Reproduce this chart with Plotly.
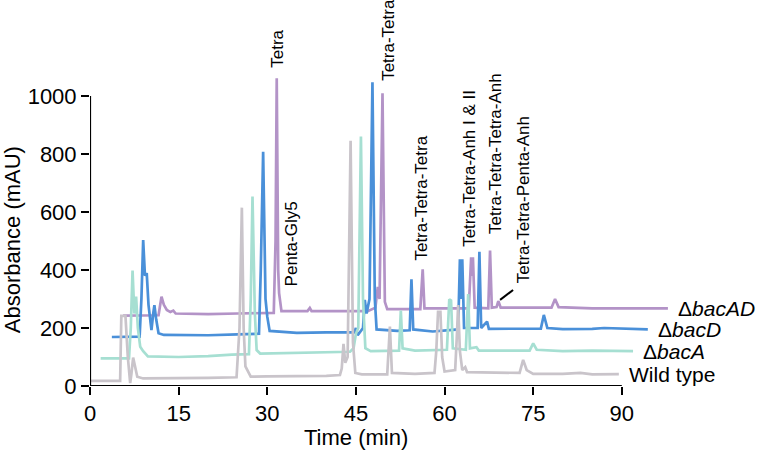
import plotly.graph_objects as go

# ---- data (time in min, absorbance in mAU) ----
wt_t = [0, 5.1, 5.3, 6.0, 6.4, 6.8, 7.0, 7.3, 7.6, 8.0, 9, 15, 20, 24.8, 25.3, 25.7, 26.0, 26.3, 26.7, 27.2,
        30, 35, 40, 42.3, 42.6, 42.9, 43.2, 43.6, 44.1, 44.5, 44.9, 46, 50.3, 50.75, 51.1, 55, 58.3, 58.6,
        58.9, 59.3, 59.6, 60.0, 61.8, 62.1, 62.3, 62.6, 63.0, 63.5, 63.8, 72.7, 73.3, 73.9, 75, 80, 83, 85, 89.5]
wt_v = [18, 18, 242, 242, 100, 10, 40, 98, 70, 32, 26, 26, 28, 30, 200, 615, 200, 68, 50, 32,
        33, 33, 35, 38, 60, 145, 80, 100, 846, 150, 45, 40, 40, 205, 45, 42, 45, 120,
        256, 256, 100, 50, 55, 180, 279, 120, 55, 65, 48, 45, 90, 55, 42, 42, 45, 40, 41]

a_t = [1.8, 6.6, 6.9, 7.2, 7.5, 7.8, 8.1, 8.5, 9.0, 9.8, 15, 20, 24, 26.9, 27.2, 27.5, 27.9, 28.2, 28.8, 35,
       40, 44.0, 44.6, 45.0, 45.4, 45.85, 46.2, 46.6, 47.5, 52.3, 52.6, 52.9, 55, 60.4, 60.8, 61.1, 61.4,
       63.6, 64.0, 64.3, 65.4, 65.8, 74.4, 75.0, 75.6, 80, 85, 91.9]
a_v = [95, 95, 200, 398, 250, 308, 200, 135, 120, 102, 100, 103, 108, 110, 300, 653, 250, 124, 112, 115,
       118, 118, 130, 180, 200, 860, 300, 130, 120, 122, 260, 130, 122, 125, 299, 295, 130,
       125, 317, 130, 134, 122, 122, 147, 125, 120, 122, 120]

d_t = [3.7, 8.4, 8.7, 9.0, 9.3, 9.6, 9.9, 10.4, 10.7, 10.9, 11.2, 11.6, 12.5, 20, 25, 28.6, 28.9, 29.3, 29.7,
       30.0, 30.4, 35, 40, 44.7, 45.0, 45.3, 46.2, 46.5, 46.8, 47.3, 47.8, 48.2, 48.5, 52, 54.1, 54.4, 54.7,
       58, 62.3, 62.6, 62.8, 63.0, 63.3, 65.6, 65.9, 66.2, 67.2, 67.5, 76.3, 76.8, 77.4, 80, 85, 87, 94.4]
d_v = [169, 170, 300, 503, 380, 389, 280, 193, 250, 279, 230, 182, 176, 175, 178, 180, 400, 808, 300,
       239, 190, 183, 185, 185, 200, 175, 200, 297, 250, 300, 1047, 300, 195, 190, 192, 368, 195,
       188, 195, 437, 300, 437, 200, 200, 463, 200, 222, 197, 198, 245, 200, 196, 197, 200, 195]

ad_t = [5.6, 11.6, 11.8, 12.1, 12.5, 13.0, 13.6, 14.1, 14.5, 20, 25, 31.1, 31.4, 31.6, 31.85, 32.0, 32.4,
        36.8, 37.2, 37.5, 47, 48.3, 48.7, 49.0, 49.5, 49.9, 50.3, 55.9, 56.3, 56.6, 64.1, 64.5, 64.6, 64.8,
        65.1, 67.4, 67.7, 68.0, 68.8, 69.1, 69.5, 78.1, 78.7, 79.3, 85, 90, 97.8]
ad_v = [243, 244, 270, 308, 280, 262, 255, 260, 250, 248, 250, 252, 500, 1061, 400, 320, 258,
        258, 269, 258, 258, 270, 342, 300, 1009, 290, 265, 265, 402, 268, 268, 444, 380, 444,
        270, 268, 467, 270, 272, 293, 270, 270, 300, 272, 268, 268, 268]

series_names = ["Δ<i>bacAD</i>", "Δ<i>bacD</i>", "Δ<i>bacA</i>", "Wild type"]
series_t = [ad_t, d_t, a_t, wt_t]
series_v = [ad_v, d_v, a_v, wt_v]
series_colors = ["#b393c7", "#4a90d9", "#a6dfd2", "#c9c4ca"]

peak_labels = ["Tetra", "Penta-Gly5", "Tetra-Tetra", "Tetra-Tetra-Tetra",
               "Tetra-Tetra-Anh I &amp; II", "Tetra-Tetra-Tetra-Anh", "Tetra-Tetra-Penta-Anh"]
peak_label_x = [31.6, 34.1, 50.4, 56.1, 64.3, 68.5, 73.3]
peak_label_y = [1162, 490, 1193, 648, 752, 803, 641]

x_ticks = [0, 15, 30, 45, 60, 75, 90]
y_ticks = [0, 200, 400, 600, 800, 1000]

X_RANGE = [0, 110]
Y_RANGE = [0, 1158.6]

FONT = "Liberation Sans, Arial, Helvetica, sans-serif"


def xp(t):
    return (t - X_RANGE[0]) / (X_RANGE[1] - X_RANGE[0])


def yp(v):
    return (v - Y_RANGE[0]) / (Y_RANGE[1] - Y_RANGE[0])


fig = go.Figure()
for name, t, v, c in zip(series_names, series_t, series_v, series_colors):
    fig.add_trace(go.Scatter(x=t, y=v, mode="lines", name=name,
                             line=dict(color=c, width=2.7), showlegend=False,
                             hoverinfo="skip"))

# series labels at the end of each trace
for name, t, v in zip(series_names, series_t, series_v):
    fig.add_annotation(x=xp(t[-1]), y=yp(v[-1]), xref="paper", yref="paper",
                       text=name, showarrow=False, borderpad=0,
                       xanchor="left", yanchor="middle", xshift=9,
                       font=dict(family=FONT, size=21, color="black"))

# peak labels, rotated
for txt, px, py in zip(peak_labels, peak_label_x, peak_label_y):
    fig.add_annotation(x=xp(px), y=yp(py), xref="paper", yref="paper",
                       text=txt, showarrow=False, textangle=-90,
                       xanchor="center", yanchor="middle",
                       font=dict(family=FONT, size=17, color="black"))

# leader line for the last label
fig.add_shape(type="line", x0=69.4, y0=297, x1=71.6, y1=331,
              line=dict(color="black", width=2), layer="above")

# axis lines limited to the tick range
fig.add_shape(type="line", x0=x_ticks[0], x1=x_ticks[-1], y0=0, y1=0,
              line=dict(color="black", width=2.2), layer="above")
fig.add_shape(type="line", x0=0, x1=0, y0=y_ticks[0], y1=y_ticks[-1],
              line=dict(color="black", width=2.2), layer="above")

# axis titles
fig.add_annotation(x=xp(45), y=-0.152, xref="paper", yref="paper",
                   text="Time (min)", showarrow=False,
                   xanchor="center", yanchor="middle",
                   font=dict(family=FONT, size=22, color="black"))
fig.add_annotation(x=-0.12, y=yp(503), xref="paper", yref="paper",
                   text="Absorbance (mAU)", showarrow=False,
                   textangle=-90, xanchor="center", yanchor="middle",
                   font=dict(family=FONT, size=22, color="black"))

fig.update_xaxes(range=X_RANGE, tickvals=x_ticks, ticktext=[str(x) for x in x_ticks],
                 ticks="outside", ticklen=8, tickwidth=2, tickcolor="black",
                 showline=False, showgrid=False, zeroline=False,
                 tickfont=dict(family=FONT, size=22, color="black"))
fig.update_yaxes(range=Y_RANGE, tickvals=y_ticks, ticktext=[str(y) for y in y_ticks],
                 ticks="outside", ticklen=8, tickwidth=2, tickcolor="black",
                 showline=False, showgrid=False, zeroline=False,
                 tickfont=dict(family=FONT, size=22, color="black"))

fig.update_layout(width=758, height=457,
                  margin=dict(l=90, r=18, t=50, b=71),
                  plot_bgcolor="white", paper_bgcolor="white",
                  font=dict(family=FONT, color="black"))

fig.write_html("out.html", config={"displayModeBar": False},
               post_script="document.body.style.margin='0';document.body.style.overflow='hidden';")
